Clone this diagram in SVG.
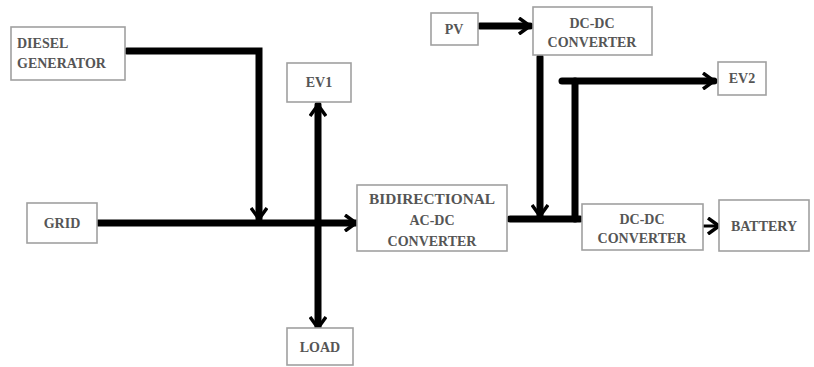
<svg xmlns="http://www.w3.org/2000/svg" width="814" height="367" viewBox="0 0 814 367">
<defs>
<style>
.box{fill:#fff;stroke:#a0a0a0;stroke-width:1.6}
.lbl{font-family:'Liberation Serif','DejaVu Serif','Times New Roman',serif;font-weight:bold;font-size:14px;fill:#555;text-anchor:middle}
.w{fill:none;stroke:#000;stroke-width:7;stroke-linecap:round;stroke-linejoin:miter}
.thin{fill:none;stroke:#000;stroke-width:3}
</style>
<marker id="ah" viewBox="0 0 14 18" refX="12" refY="9" markerWidth="14" markerHeight="18" markerUnits="userSpaceOnUse" orient="auto-start-reverse">
<path d="M1,1 L12,9 L1,17" fill="none" stroke="#000" stroke-width="3.5" stroke-linejoin="miter"/>
</marker>
</defs>
<rect width="814" height="367" fill="#fff"/>
<g id="connectors">
<path class="w" d="M127,51 H259 V219" marker-end="url(#ah)"/>
<path class="w" d="M98,223 H356" marker-end="url(#ah)"/>
<path class="w" d="M318,105 V328" marker-start="url(#ah)" marker-end="url(#ah)"/>
<path class="w" d="M510,219 H580"/>
<path class="w" d="M540,57 V216" marker-end="url(#ah)"/>
<path class="w" d="M575,219 V81"/>
<path class="w" d="M562,81 H714" marker-end="url(#ah)"/>
<path class="w" d="M480,26 H530" marker-end="url(#ah)"/>
<path class="thin" d="M703,226 H719" marker-end="url(#ah)"/>
</g>
<g id="diesel"><rect class="box" x="11" y="27" width="114" height="53"/><text class="lbl" x="17" y="48" text-anchor="start" style="text-anchor:start">DIESEL</text><text class="lbl" x="17" y="68" style="text-anchor:start">GENERATOR</text></g>
<g id="grid"><rect class="box" x="27" y="203" width="70" height="40"/><text class="lbl" x="62" y="228">GRID</text></g>
<g id="ev1"><rect class="box" x="287" y="63" width="64" height="39"/><text class="lbl" x="319" y="87">EV1</text></g>
<g id="load"><rect class="box" x="287" y="328" width="66" height="37"/><text class="lbl" x="320" y="352">LOAD</text></g>
<g id="bidir"><rect class="box" x="357" y="185" width="150" height="66"/><text class="lbl" x="432" y="204" textLength="126" lengthAdjust="spacingAndGlyphs">BIDIRECTIONAL</text><text class="lbl" x="432" y="225">AC-DC</text><text class="lbl" x="432" y="246">CONVERTER</text></g>
<g id="pv"><rect class="box" x="431" y="13" width="47" height="32"/><text class="lbl" x="454" y="34">PV</text></g>
<g id="dcdc1"><rect class="box" x="533" y="7" width="119" height="48"/><text class="lbl" x="592" y="28">DC-DC</text><text class="lbl" x="592" y="47">CONVERTER</text></g>
<g id="ev2"><rect class="box" x="718" y="62" width="48" height="33"/><text class="lbl" x="742" y="83">EV2</text></g>
<g id="dcdc2"><rect class="box" x="582" y="204" width="121" height="46"/><text class="lbl" x="642" y="224">DC-DC</text><text class="lbl" x="642" y="243">CONVERTER</text></g>
<g id="battery"><rect class="box" x="719" y="200" width="90" height="51"/><text class="lbl" x="764" y="231">BATTERY</text></g>
</svg>
